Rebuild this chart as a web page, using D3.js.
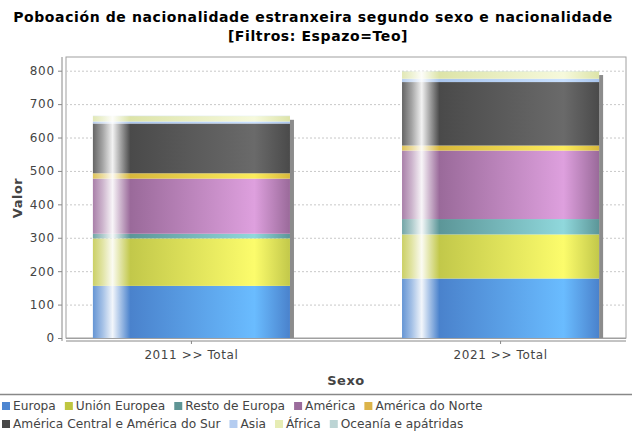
<!DOCTYPE html>
<html>
<head>
<meta charset="utf-8">
<script src="https://cdn.jsdelivr.net/npm/d3@7"></script>
<style>
  body { margin: 0; background: #fff; }
  svg { display: block; font-family: "DejaVu Sans", sans-serif; }
</style>
</head>
<body>
<div id="main"></div>
<script>
// categories and series
var categories = ["2011 >> Total", "2021 >> Total"];
var seriesNames = ["Europa", "Unión Europea", "Resto de Europa", "América", "América do Norte",
                   "América Central e América do Sur", "Asia", "África", "Oceanía e apátridas"];
var europa = [156, 178];
var unionEuropea = [142, 132];
var restoEuropa = [14, 46];
var america = [165, 205];
var americaNorte = [16, 15];
var americaCentralSur = [149, 190];
var asia = [6, 10];
var africa = [16, 22];
var oceania = [1, 1];
var yTicks = [0, 100, 200, 300, 400, 500, 600, 700, 800];

var ctx = {
    w: 632,
    h: 432,
    left: 66,
    right: 626,
    top: 57,
    bottom: 338,
    // [dark, light, legend swatch]
    colors: [
        ["#4a82cc", "#6abcff", "#4d86d1"],
        ["#c2c84a", "#fcfc6c", "#bfc640"],
        ["#5c9698", "#90d8dc", "#5f9595"],
        ["#9a6a9a", "#dea0de", "#9b6c9c"],
        ["#d8b83c", "#fcec5c", "#dcb44a"],
        ["#4a4a4a", "#6a6a6a", "#484848"],
        ["#a8c4ec", "#c8e0ff", "#b4ccf0"],
        ["#dde4a8", "#f6f9dc", "#e6ecb4"],
        ["#b4cccc", "#d8ecec", "#bcd4d4"]
    ]
};

var rows = categories.map(function(c, i){
    return {cat: c, values: [europa[i], unionEuropea[i], restoEuropa[i], america[i], americaNorte[i],
                             americaCentralSur[i], asia[i], africa[i], oceania[i]]};
});

var svg = d3.select("#main").append("svg")
    .attr("width", ctx.w).attr("height", ctx.h);

var x = d3.scaleBand().domain(categories).range([ctx.left, ctx.right])
    .paddingInner(0.3625).paddingOuter(0.087);
var y = d3.scaleLinear().domain([0, 841]).range([ctx.bottom, ctx.top]);

// gradients, one per series
var defs = svg.append("defs");
ctx.colors.forEach(function(c, i){
    var dark = d3.color(c[0]), light = d3.color(c[1]);
    var mixW = function(t){ return d3.interpolateRgb(dark, "#ffffff")(t); };
    var g = defs.append("linearGradient").attr("id", "grad" + i)
        .attr("x1", 0).attr("x2", 1).attr("y1", 0).attr("y2", 0);
    var stops = [[0, mixW(0.15)], [0.05, mixW(0.5)], [0.1, mixW(0.93)], [0.14, mixW(0.5)],
                 [0.19, dark], [0.82, light], [1, dark]];
    stops.forEach(function(s){
        g.append("stop").attr("offset", s[0]).attr("stop-color", s[1]);
    });
});

// title
svg.append("text").attr("x", 313).attr("y", 22).attr("text-anchor", "middle")
    .attr("font-weight", "bold").attr("font-size", 14).attr("letter-spacing", 0.6).attr("fill", "#000")
    .text("Poboación de nacionalidade estranxeira segundo sexo e nacionalidade");
svg.append("text").attr("x", 318).attr("y", 41).attr("text-anchor", "middle")
    .attr("font-weight", "bold").attr("font-size", 14).attr("letter-spacing", 0.6).attr("fill", "#000")
    .text("[Filtros: Espazo=Teo]");

// plot background + grid
svg.append("rect").attr("x", ctx.left).attr("y", ctx.top)
    .attr("width", ctx.right - ctx.left).attr("height", ctx.bottom - ctx.top)
    .attr("fill", "#fff").attr("stroke", "#a0a0a0");
svg.append("g").selectAll("line").data(yTicks.filter(d => d > 0)).enter().append("line")
    .attr("x1", ctx.left).attr("x2", ctx.right)
    .attr("y1", d => y(d) + 0.5).attr("y2", d => y(d) + 0.5)
    .attr("stroke", "#c8c8c8").attr("stroke-dasharray", "2,2");

// bars
var stack = d3.stack().keys(d3.range(seriesNames.length)).value((d, k) => d.values[k]);
var layers = stack(rows);

// shadows
svg.append("g").selectAll("rect").data(rows).enter().append("rect")
    .attr("x", d => x(d.cat) + x.bandwidth())
    .attr("y", d => y(d3.sum(d.values)) + 4)
    .attr("width", 4)
    .attr("height", d => ctx.bottom - y(d3.sum(d.values)) - 4)
    .attr("fill", "#8c8c8c");

layers.forEach(function(layer, i){
    svg.append("g").selectAll("rect").data(layer).enter().append("rect")
        .attr("x", d => x(d.data.cat))
        .attr("y", d => y(d[1]))
        .attr("width", x.bandwidth())
        .attr("height", d => y(d[0]) - y(d[1]))
        .attr("fill", "url(#grad" + i + ")");
});

// double line under plot
svg.append("line").attr("x1", ctx.left).attr("x2", ctx.right)
    .attr("y1", ctx.bottom + 0.5).attr("y2", ctx.bottom + 0.5).attr("stroke", "#a0a0a0");

// y axis
var yAxis = svg.append("g").attr("transform", "translate(62,0)")
    .call(d3.axisLeft(y).tickValues(yTicks).tickSize(4).tickPadding(3));
yAxis.select(".domain").attr("stroke", "#888").attr("d", "M0," + ctx.top + "V" + (ctx.bottom + 3));
yAxis.selectAll(".tick line").attr("stroke", "#888");
yAxis.selectAll("text").attr("font-size", 12).attr("letter-spacing", 0.8)
    .attr("fill", "#444").attr("font-family", "DejaVu Sans");

// x axis
var xAxis = svg.append("g").attr("transform", "translate(0," + (ctx.bottom + 3) + ")")
    .call(d3.axisBottom(x).tickSize(3).tickPadding(6));
xAxis.select(".domain").attr("stroke", "#888").attr("d", "M" + ctx.left + ",0H" + ctx.right);
xAxis.selectAll(".tick line").attr("stroke", "#888");
xAxis.selectAll("text").attr("font-size", 12).attr("letter-spacing", 0.6)
    .attr("fill", "#444").attr("font-family", "DejaVu Sans");

// axis labels
svg.append("text").attr("transform", "translate(22,198) rotate(-90)")
    .attr("text-anchor", "middle").attr("font-weight", "bold").attr("font-size", 13)
    .attr("letter-spacing", 0.5).attr("fill", "#444").text("Valor");
svg.append("text").attr("x", (ctx.left + ctx.right) / 2).attr("y", 385)
    .attr("text-anchor", "middle").attr("font-weight", "bold").attr("font-size", 13)
    .attr("letter-spacing", 0.5).attr("fill", "#444").text("Sexo");

// legend
svg.append("line").attr("x1", 0).attr("x2", ctx.w).attr("y1", 394.5).attr("y2", 394.5)
    .attr("stroke", "#888").attr("stroke-width", 1.5);
var legendRows = [[0, 1, 2, 3, 4], [5, 6, 7, 8]];
legendRows.forEach(function(r, ri){
    var lx = 2, ly = 410 + ri * 18;
    r.forEach(function(k){
        svg.append("rect").attr("x", lx).attr("y", ly - 8).attr("width", 8).attr("height", 8)
            .attr("fill", ctx.colors[k][2]);
        var t = svg.append("text").attr("x", lx + 11).attr("y", ly)
            .attr("font-size", 12.2).attr("fill", "#444").text(seriesNames[k]);
        lx += 11 + t.node().getComputedTextLength() + 9;
    });
});
</script>
</body>
</html>
